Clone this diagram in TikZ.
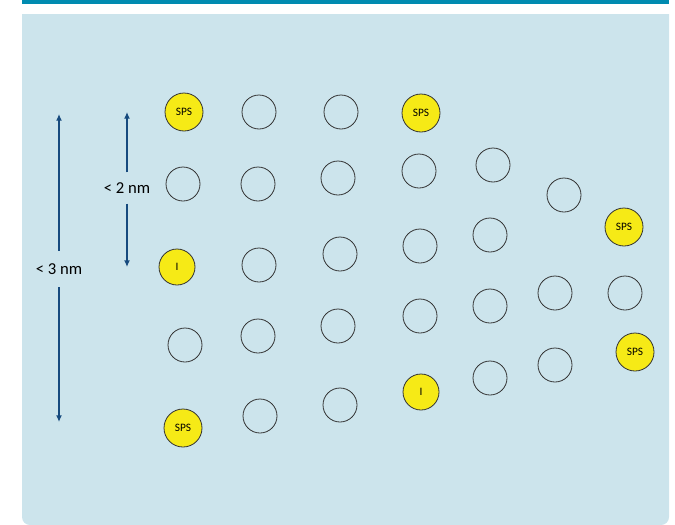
\documentclass[tikz,border=0pt]{standalone}
\usepackage{fontspec}
\setmainfont{Carlito}
\usetikzlibrary{arrows.meta}

\definecolor{barblue}{RGB}{0,139,176}
\definecolor{panelblue}{RGB}{204,228,236}
\definecolor{arrowblue}{RGB}{22,74,126}
\definecolor{dotyellow}{RGB}{246,234,22}

\begin{document}
\begin{tikzpicture}[x=0.75pt, y=-0.75pt,
	site/.style={circle, draw=black!80, line width=0.6pt, minimum size=25.5pt, inner sep=0pt},
	sps/.style={site, fill=dotyellow, minimum size=28.5pt, font=\fontsize{8.5}{9}\selectfont},
	ion/.style={sps, minimum size=27pt},
	dim/.style={draw=arrowblue, line width=1.1pt, -{Latex[length=5pt,width=4.5pt]}},
	dimlabel/.style={inner sep=0pt, minimum height=24pt, font=\fontsize{12.5}{14}\selectfont}]
		\useasboundingbox (0, 0) rectangle (675, 525);
		
		% top bar and panel
		\fill[barblue] (22, 0) rectangle (669, 4);
		\fill[panelblue] (22, 14) -- (669, 14) [rounded corners=6pt] -- (669, 525) -- (22, 525) [sharp corners] -- cycle;
		
		% size arrows
		\coordinate (top3) at (59, 114);
		\coordinate (bot3) at (59, 422);
		\node[dimlabel, minimum height=27pt] (l3) at (59, 269) {< 3 nm};
		\draw[dim] (l3.north) -- (top3);
		\draw[dim] (l3.south) -- (bot3);
		
		\coordinate (top2) at (127, 112);
		\coordinate (bot2) at (127, 267);
		\node[dimlabel, minimum height=23pt] (l2) at (127, 188) {< 2 nm};
		\draw[dim] (l2.north) -- (top2);
		\draw[dim] (l2.south) -- (bot2);
		
		% column 1
		\node[sps] (a1) at (184, 112) {SPS};
		\node[site] (a2) at (183, 184) {};
		\node[ion] (a3) at (177, 267) {I};
		\node[site] (a4) at (185, 345) {};
		\node[sps] (a5) at (183, 428) {SPS};
		
		% column 2
		\node[site] (b1) at (259, 112) {};
		\node[site] (b2) at (258, 184) {};
		\node[site] (b3) at (259, 265) {};
		\node[site] (b4) at (258, 336) {};
		\node[site] (b5) at (260, 416) {};
		
		% column 3
		\node[site] (c1) at (341, 112) {};
		\node[site] (c2) at (338, 178) {};
		\node[site] (c3) at (340, 254) {};
		\node[site] (c4) at (338, 326) {};
		\node[site] (c5) at (340, 405) {};
		
		% column 4
		\node[sps] (d1) at (421, 113) {SPS};
		\node[site] (d2) at (419, 171) {};
		\node[site] (d3) at (420, 246) {};
		\node[site] (d4) at (420, 316) {};
		\node[ion] (d5) at (421, 392) {I};
		
		% column 5
		\node[site] (e1) at (493, 165) {};
		\node[site] (e2) at (490, 235) {};
		\node[site] (e3) at (490, 306) {};
		\node[site] (e4) at (490, 378) {};
		
		% column 6
		\node[site] (f1) at (564, 195) {};
		\node[site] (f2) at (555, 293) {};
		\node[site] (f3) at (555, 365) {};
		
		% column 7
		\node[sps] (g1) at (624, 227) {SPS};
		\node[site] (g2) at (625, 293) {};
		\node[sps] (g3) at (635, 352) {SPS};
	\end{tikzpicture}
\end{document}
